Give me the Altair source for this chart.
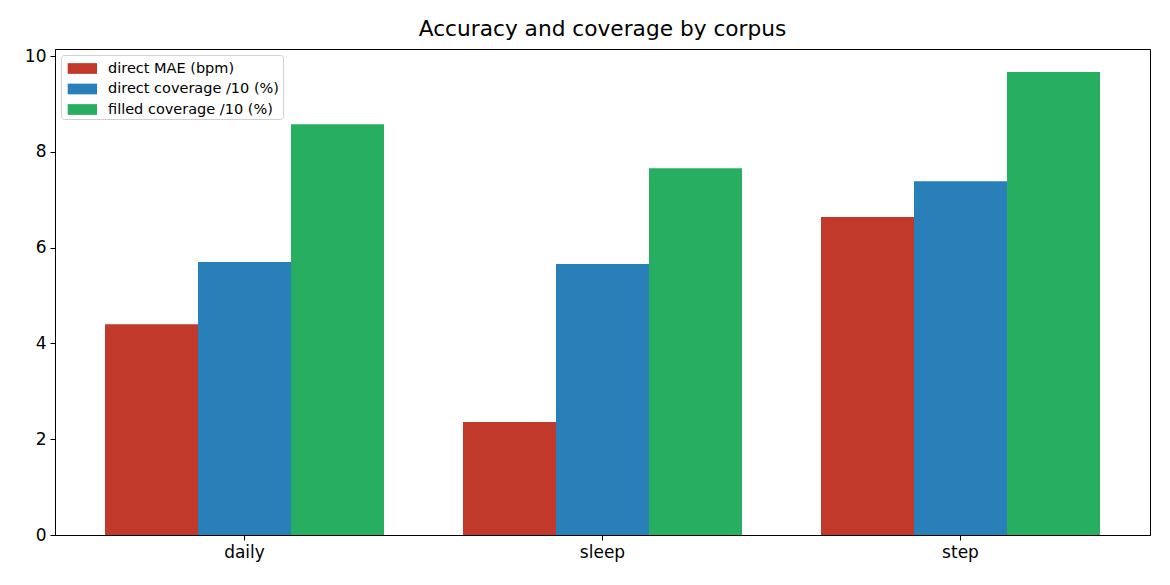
import altair as alt
import pandas as pd

corpora = ["daily", "sleep", "step"]
series = ["direct MAE (bpm)", "direct coverage /10 (%)", "filled coverage /10 (%)"]
colors = ["#c0392b", "#2980b9", "#27ae60"]
mae = [4.40, 2.36, 6.64]
direct_cov = [5.70, 5.66, 7.39]
filled_cov = [8.58, 7.66, 9.67]
y_ticks = [0, 2, 4, 6, 8, 10]

rows = []
for i, c in enumerate(corpora):
    for s, vals in zip(series, [mae, direct_cov, filled_cov]):
        rows.append({"corpus": c, "series": s, "value": vals[i]})
df = pd.DataFrame(rows)

FONT = "DejaVu Sans"

chart = alt.Chart(df).mark_bar().encode(
    x=alt.X("corpus:N", sort=corpora, title=None,
            scale=alt.Scale(paddingInner=0.2207, paddingOuter=0.1397),
            axis=alt.Axis(labelAngle=0, labelFontSize=17, labelFont=FONT, labelColor="black",
                          tickColor="black", domainColor="black", tickSize=5, labelPadding=4)),
    xOffset=alt.XOffset("series:N", sort=series, scale=alt.Scale(paddingInner=0, paddingOuter=0)),
    y=alt.Y("value:Q", title=None,
            scale=alt.Scale(domain=[0, 10.15], nice=False, zero=True),
            axis=alt.Axis(values=y_ticks, grid=False, labelFontSize=17, labelFont=FONT,
                          labelColor="black", tickColor="black", domainColor="black",
                          tickSize=5, labelPadding=4)),
    color=alt.Color("series:N", sort=series,
                    scale=alt.Scale(domain=series, range=colors),
                    legend=alt.Legend(title=None, orient="top-left", offset=6,
                                      symbolType="M-0.648,-0.51H2.143V0.51H-0.648Z",
                                      symbolSize=441, symbolStrokeWidth=0,
                                      labelFontSize=14.5, labelFont=FONT, labelLimit=400,
                                      labelColor="black", rowPadding=3.5, labelOffset=23,
                                      padding=3, fillColor="rgba(255,255,255,0.8)",
                                      strokeColor="#d0d0d0", cornerRadius=3)),
).properties(
    width=1095, height=486,
    title=alt.TitleParams("Accuracy and coverage by corpus", fontSize=21.7, font=FONT,
                          fontWeight="normal", color="black", offset=6),
    autosize=alt.AutoSizeParams(type="none"),
    padding={"left": 47, "top": 41, "right": 12, "bottom": 42},
).configure_view(stroke="black", strokeWidth=1)

chart.save("out.html", embed_options={"renderer": "svg", "actions": False})
